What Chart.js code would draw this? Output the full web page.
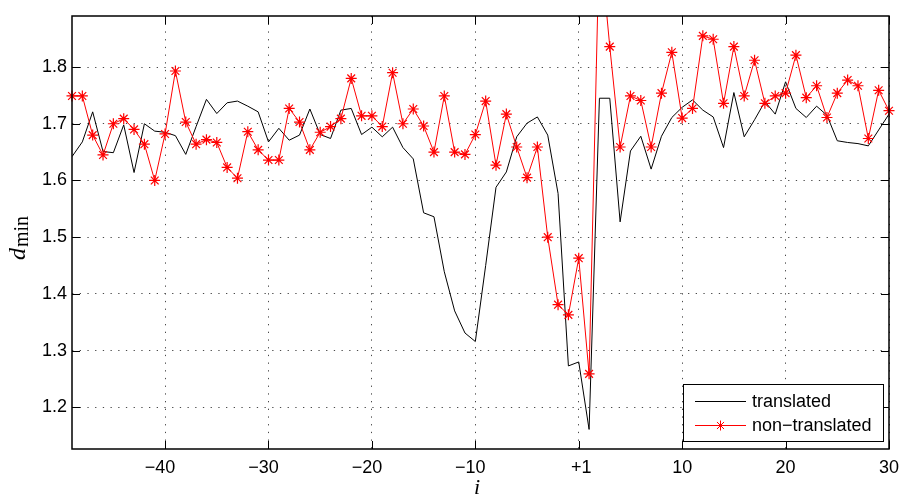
<!DOCTYPE html>
<html>
<head>
<meta charset="utf-8">
<script src="https://cdn.jsdelivr.net/npm/chart.js@4/dist/chart.umd.min.js"></script>
<style>
  html, body { margin: 0; padding: 0; background: #fff; }
  canvas { display: block; }
</style>
</head>
<body>
<canvas id="chart" width="900" height="495"></canvas>
<script>
// Sample positions along the horizontal axis
const positions = [
  -49, -48, -47, -46, -45, -44, -43, -42, -41, -40,
  -39, -38, -37, -36, -35, -34, -33, -32, -31, -30,
  -29, -28, -27, -26, -25, -24, -23, -22, -21, -20,
  -19, -18, -17, -16, -15, -14, -13, -12, -11, -10,
  -9, -8, -7, -6, -5, -4, -3, -2, -1, 0,
  1, 2, 3, 4, 5, 6, 7, 8, 9, 10,
  11, 12, 13, 14, 15, 16, 17, 18, 19, 20,
  21, 22, 23, 24, 25, 26, 27, 28, 29, 30
];

// d_min for the translated case
const translated = [
  1.642, 1.668, 1.721, 1.651, 1.649, 1.698, 1.614, 1.700, 1.687, 1.685,
  1.679, 1.646, 1.695, 1.743, 1.718, 1.737, 1.740, 1.731, 1.721, 1.668,
  1.692, 1.671, 1.680, 1.726, 1.681, 1.674, 1.724, 1.727, 1.681, 1.694,
  1.677, 1.694, 1.658, 1.638, 1.543, 1.536, 1.439, 1.370, 1.331, 1.316,
  1.450, 1.588, 1.615, 1.677, 1.701, 1.712, 1.680, 1.577, 1.273, 1.280,
  1.161, 1.745, 1.745, 1.527, 1.652, 1.678, 1.620, 1.678, 1.711, 1.729,
  1.742, 1.724, 1.712, 1.658, 1.755, 1.677, 1.707, 1.739, 1.717, 1.774,
  1.727, 1.711, 1.731, 1.715, 1.670, 1.667, 1.665, 1.661, 1.689, 1.717
];

// d_min for the non-translated case
const nonTranslated = [
  1.749, 1.749, 1.680, 1.645, 1.700, 1.709, 1.690, 1.664, 1.600, 1.682,
  1.793, 1.703, 1.664, 1.672, 1.667, 1.623, 1.604, 1.686, 1.654, 1.636,
  1.636, 1.727, 1.703, 1.654, 1.685, 1.695, 1.709, 1.780, 1.714, 1.714,
  1.695, 1.790, 1.700, 1.726, 1.696, 1.650, 1.749, 1.650, 1.646, 1.681,
  1.740, 1.627, 1.717, 1.659, 1.605, 1.659, 1.500, 1.381, 1.363, 1.463,
  1.259, 2.030, 1.836, 1.659, 1.749, 1.741, 1.659, 1.754, 1.826, 1.710,
  1.727, 1.855, 1.849, 1.736, 1.836, 1.749, 1.812, 1.736, 1.749, 1.754,
  1.821, 1.746, 1.767, 1.711, 1.754, 1.777, 1.767, 1.674, 1.759, 1.723
];

// Axis ticks
const xTickValues = [-40, -30, -20, -10, 0, 10, 20, 30];
const xTickLabels = ['\u221240  ', '\u221230  ', '\u221220  ', '\u221210  ', ' +1', '10', '20', '30'];
const yTickValues = [1.2, 1.3, 1.4, 1.5, 1.6, 1.7, 1.8];
const yTickLabels = ['1.2', '1.3', '1.4', '1.5', '1.6', '1.7', '1.8'];

const seriesNames = ['translated', 'non\u2212translated'];

const SANS = '"Liberation Sans", Arial, Helvetica, sans-serif';
const SERIF = '"Liberation Serif", "Times New Roman", serif';
const TICK_LEN = 8;

function toPoints(values) {
  return positions.map((p, i) => ({ x: p, y: values[i] }));
}

function drawStar(ctx, cx, cy, r) {
  const d = r * Math.SQRT1_2;
  ctx.beginPath();
  ctx.moveTo(cx - r, cy); ctx.lineTo(cx + r, cy);
  ctx.moveTo(cx, cy - r); ctx.lineTo(cx, cy + r);
  ctx.moveTo(cx - d, cy - d); ctx.lineTo(cx + d, cy + d);
  ctx.moveTo(cx - d, cy + d); ctx.lineTo(cx + d, cy - d);
  ctx.stroke();
}

// Boxed axes with inward ticks, axis titles and an inset legend
const framePlugin = {
  id: 'frame',
  afterDraw(chart) {
    const { ctx, chartArea: a, scales } = chart;
    const xs = scales.x, ys = scales.y;
    ctx.save();

    // inward tick marks on all four sides
    ctx.strokeStyle = '#000';
    ctx.lineWidth = 1;
    ctx.beginPath();
    xTickValues.forEach(v => {
      const px = Math.round(xs.getPixelForValue(v)) + 0.5;
      ctx.moveTo(px, a.bottom); ctx.lineTo(px, a.bottom - TICK_LEN);
      ctx.moveTo(px, a.top); ctx.lineTo(px, a.top + TICK_LEN);
    });
    yTickValues.forEach(v => {
      const py = Math.round(ys.getPixelForValue(v)) + 0.5;
      ctx.moveTo(a.left, py); ctx.lineTo(a.left + TICK_LEN, py);
      ctx.moveTo(a.right, py); ctx.lineTo(a.right - TICK_LEN, py);
    });
    ctx.stroke();

    // axes box
    ctx.lineWidth = 1.5;
    ctx.strokeRect(a.left, a.top, a.right - a.left, a.bottom - a.top);

    // legend
    const lx = 683, ly = 384, lw = 200, lh = 57;
    ctx.fillStyle = '#fff';
    ctx.fillRect(lx, ly, lw, lh);
    ctx.lineWidth = 1;
    ctx.strokeStyle = '#000';
    ctx.strokeRect(lx + 0.5, ly + 0.5, lw, lh);
    const rows = [401.5, 425.5];
    const colors = ['#000000', '#ff0000'];
    ctx.font = '18px ' + SANS;
    ctx.textBaseline = 'middle';
    ctx.textAlign = 'left';
    rows.forEach((ry, i) => {
      ctx.strokeStyle = colors[i];
      ctx.lineWidth = 1;
      ctx.beginPath();
      ctx.moveTo(695, ry); ctx.lineTo(746, ry);
      ctx.stroke();
      if (i === 1) drawStar(ctx, 720.5, ry, 5);
      ctx.fillStyle = '#000';
      ctx.fillText(seriesNames[i], 752, ry + 1);
    });

    // x-axis title
    ctx.fillStyle = '#000';
    ctx.font = 'italic 22px ' + SERIF;
    ctx.textAlign = 'center';
    ctx.textBaseline = 'alphabetic';
    ctx.fillText('i', 477, 494);

    // y-axis title: d with subscript "min"
    ctx.save();
    ctx.translate(25, 238);
    ctx.rotate(-Math.PI / 2);
    const mainFont = 'italic 24px ' + SERIF;
    const subFont = '20px ' + SERIF;
    ctx.font = mainFont;
    const wd = ctx.measureText('d').width;
    ctx.font = subFont;
    const ws = ctx.measureText('min').width;
    const start = -(wd + 1 + ws) / 2;
    ctx.textAlign = 'left';
    ctx.font = mainFont;
    ctx.fillText('d', start, 0);
    ctx.font = subFont;
    ctx.fillText('min', start + wd + 1, 3);
    ctx.restore();

    ctx.restore();
  }
};

const gridStyle = { color: '#4a4a4a', lineWidth: 1, drawTicks: false };
const gridBorder = { display: false, dash: [1.3, 6.4] };

new Chart(document.getElementById('chart').getContext('2d'), {
  type: 'line',
  data: {
    datasets: [
      {
        label: seriesNames[1],
        data: toPoints(nonTranslated),
        borderColor: '#ff0000',
        borderWidth: 1,
        pointStyle: 'star',
        pointRadius: 5.5,
        pointBorderWidth: 1.2,
        pointBorderColor: '#ff0000',
        pointBackgroundColor: '#ff0000',
        tension: 0,
        order: 0,
        clip: { left: false, right: false, top: 0, bottom: 0 }
      },
      {
        label: seriesNames[0],
        data: toPoints(translated),
        borderColor: '#000000',
        borderWidth: 1,
        pointRadius: 0,
        tension: 0,
        order: 1,
        clip: 0
      }
    ]
  },
  options: {
    responsive: false,
    animation: false,
    devicePixelRatio: 1,
    layout: { padding: { top: 16, right: 11, left: 0, bottom: 0 } },
    plugins: { legend: { display: false }, tooltip: { enabled: false } },
    scales: {
      x: {
        type: 'linear',
        min: -49,
        max: 30,
        afterFit(s) { s.height = 46; s.paddingLeft = 0; s.paddingRight = 0; },
        afterBuildTicks(s) { s.ticks = xTickValues.map(v => ({ value: v })); },
        ticks: {
          autoSkip: false,
          maxRotation: 0,
          padding: 8,
          color: '#000',
          font: { family: SANS, size: 18 },
          callback: (v, i) => xTickLabels[i]
        },
        grid: gridStyle,
        border: gridBorder
      },
      y: {
        type: 'linear',
        min: 1.1265,
        max: 1.89,
        afterFit(s) { s.width = 72; s.paddingTop = 0; s.paddingBottom = 0; },
        afterBuildTicks(s) { s.ticks = yTickValues.map(v => ({ value: v })); },
        ticks: {
          autoSkip: false,
          padding: 5,
          color: '#000',
          font: { family: SANS, size: 18 },
          callback: (v, i) => yTickLabels[i]
        },
        grid: gridStyle,
        border: gridBorder
      }
    }
  },
  plugins: [framePlugin]
});
</script>
</body>
</html>
